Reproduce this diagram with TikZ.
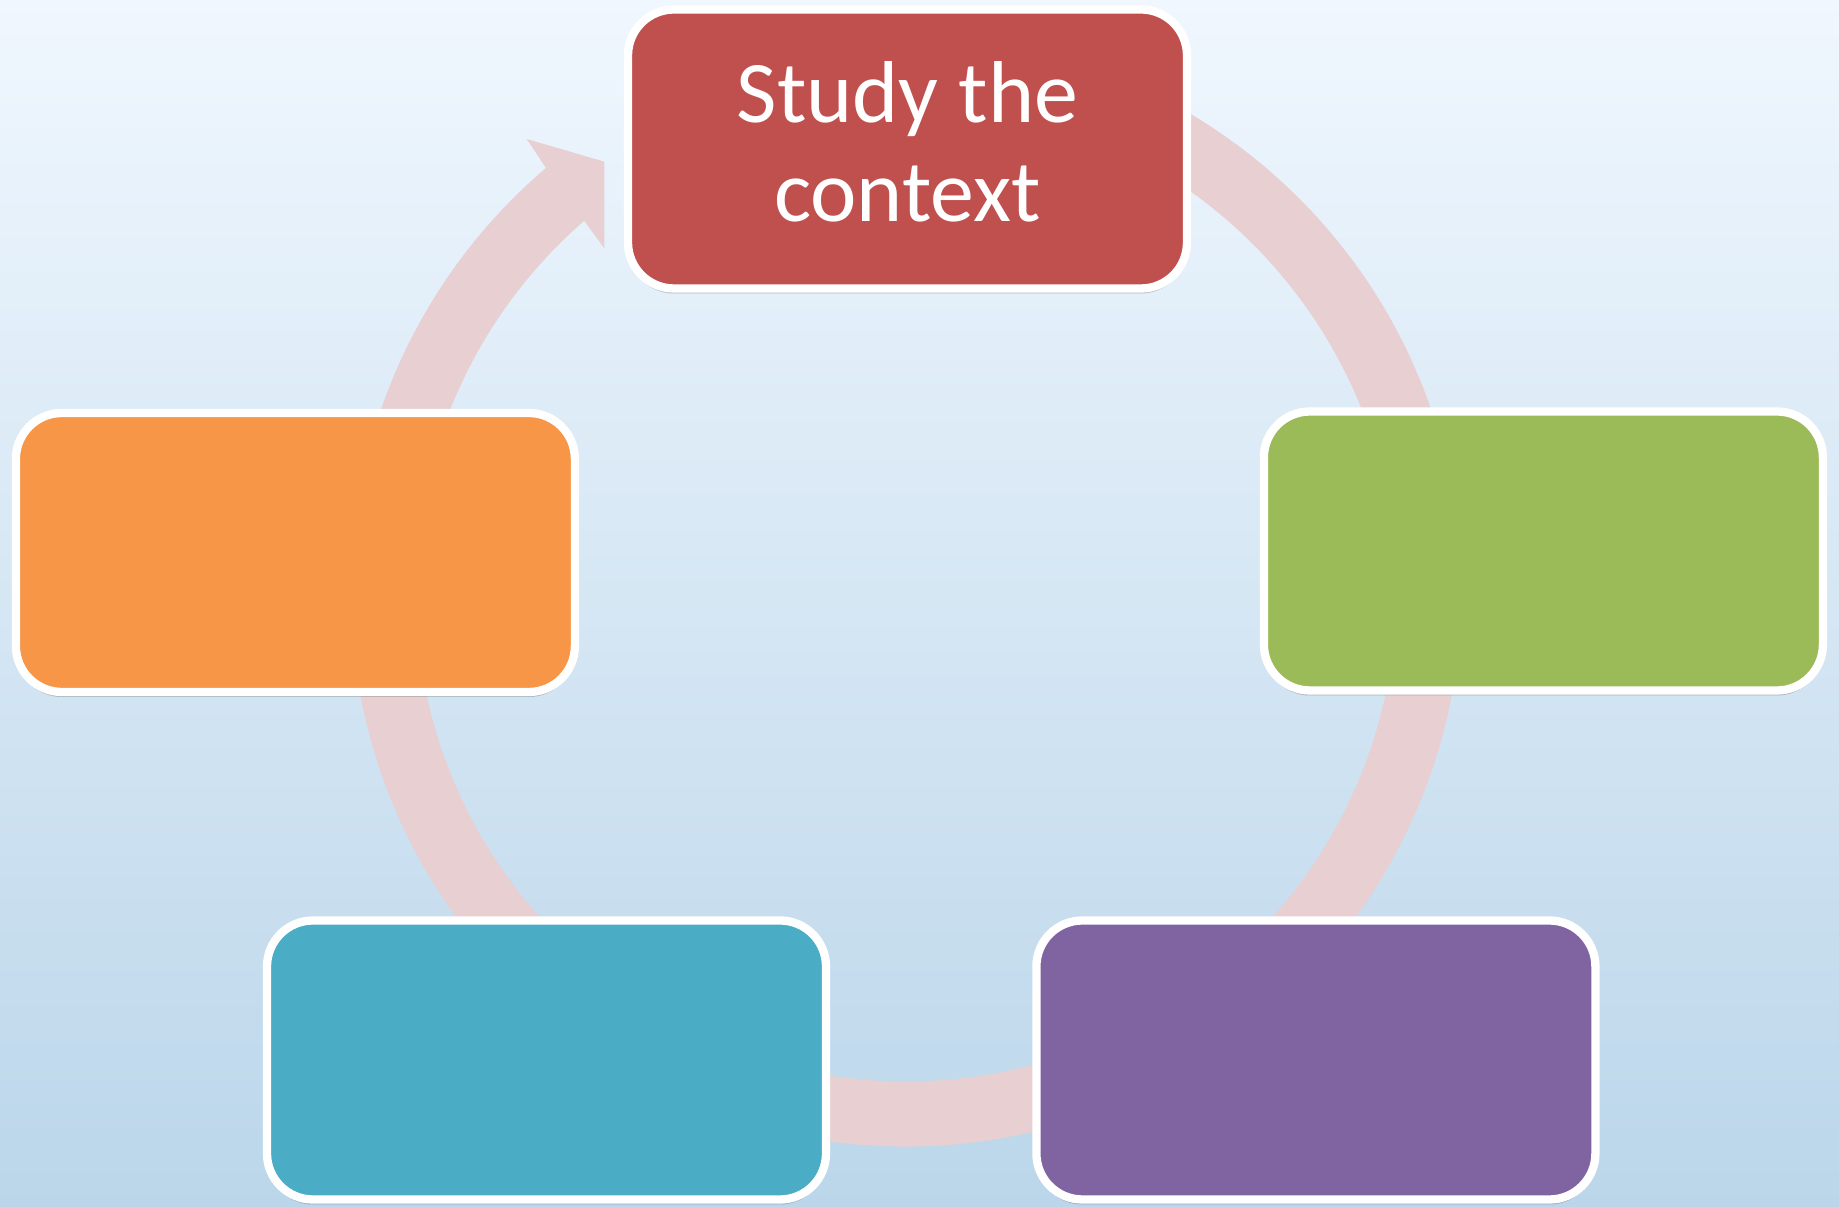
\documentclass[tikz,border=0pt]{standalone}
\usepackage{fontspec}
\setmainfont{Carlito}
\usetikzlibrary{shadows}

\definecolor{bgtop}{HTML}{F0F7FE}
\definecolor{bgbottom}{HTML}{BBD6EA}
\definecolor{ringpink}{HTML}{E8CFD1}
\definecolor{stagered}{HTML}{C0504D}
\definecolor{stageorange}{HTML}{F79646}
\definecolor{stagegreen}{HTML}{9BBB59}
\definecolor{stageteal}{HTML}{4BACC6}
\definecolor{stagepurple}{HTML}{8064A2}

\begin{document}
\begin{tikzpicture}[stage/.style={draw=white,line width=0.083cm,rounded corners=0.46cm,minimum width=5.59cm,minimum height=2.79cm,drop shadow={shadow xshift=0cm,shadow yshift=-0.05cm,opacity=0.3,fill=black!70}},cycle ring/.style={fill=ringpink}]
    \useasboundingbox (0,0) rectangle (18.39,12.07);
    \shade[top color=bgtop,bottom color=bgbottom] (0,0) rectangle (18.39,12.07);
    \begin{scope}[shift={(9.06,6.16)}]
      \fill[cycle ring] (130.4:5.555) -- (-3.793,4.52) -- (-3.017,4.293) -- (-3.017,3.427) -- (131:4.905)
        arc[start angle=131,end angle=460,radius=4.905] -- (460:5.555)
        arc[start angle=460,end angle=130.4,radius=5.555] -- cycle;
    \end{scope}
    \node[stage,fill=stagered,text=white,align=center,text depth=0.15cm,font=\fontsize{25}{28}\selectfont] (study) at (9.075,10.58) {Study the\\context};
    \node[stage,fill=stagegreen] (stageB) at (15.434,6.56) {};
    \node[stage,fill=stagepurple] (stageC) at (13.159,1.47) {};
    \node[stage,fill=stageteal] (stageD) at (5.465,1.47) {};
    \node[stage,fill=stageorange] (stageE) at (2.954,6.545) {};
\end{tikzpicture}
\end{document}
